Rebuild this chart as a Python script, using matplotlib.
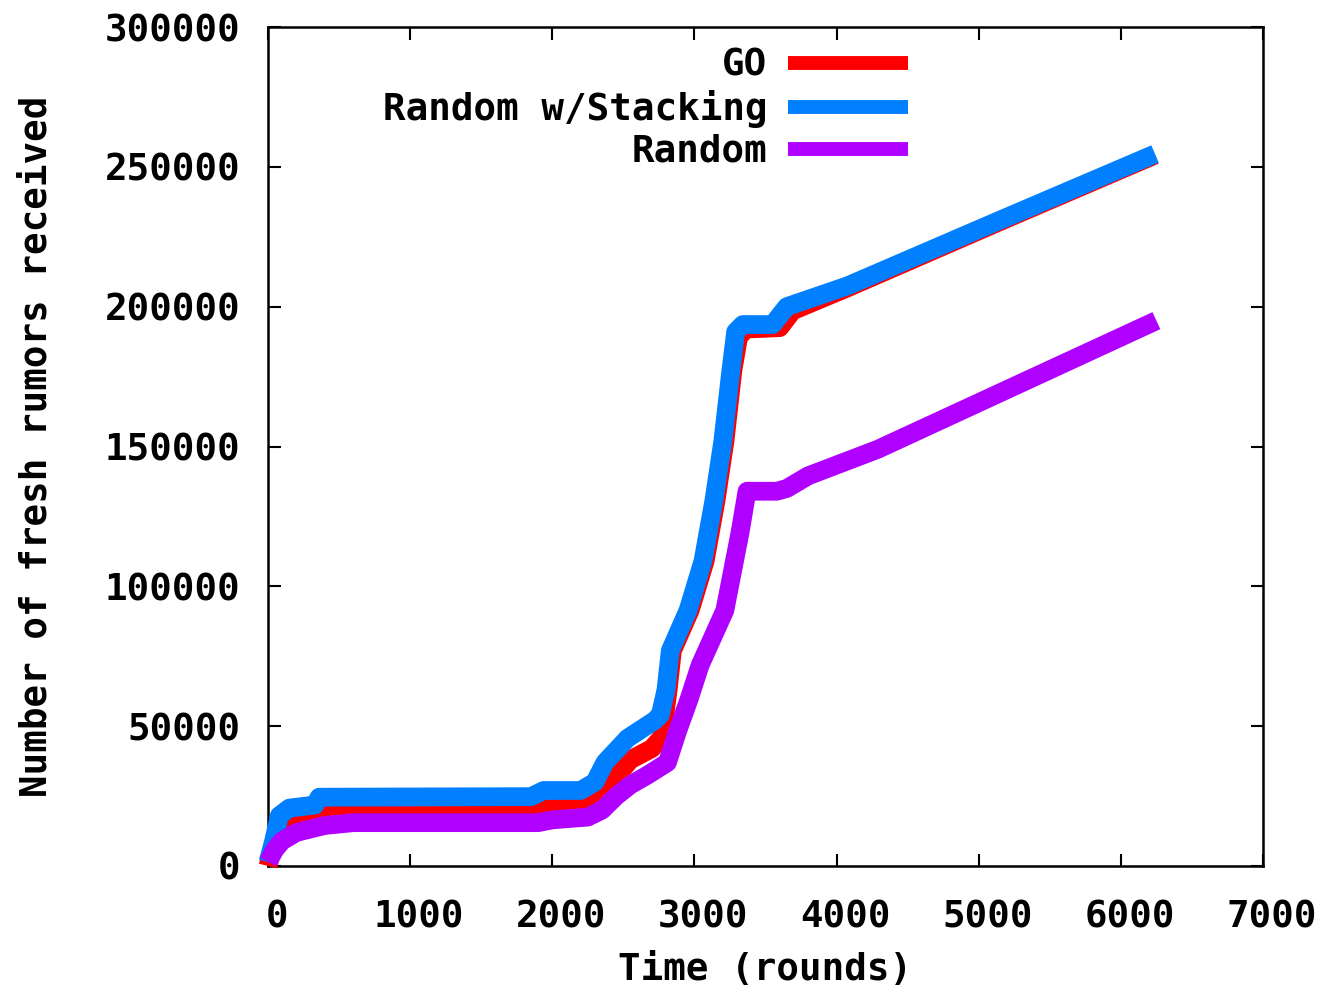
import matplotlib
matplotlib.use("Agg")
import matplotlib.pyplot as plt
import matplotlib.transforms as mtransforms

# GO
go_x = [0, 30, 100, 170, 300, 440, 1900, 1950, 2250, 2350, 2450, 2550, 2700, 2770,
        2815, 2845, 2970, 3075, 3152, 3215, 3270, 3310, 3360, 3600, 3690, 4080, 5130, 6240]
go_y = [0, 6000, 12000, 16000, 17000, 19300, 19300, 21500, 22500, 26000, 32000, 38000,
        42000, 46000, 63000, 77000, 91400, 109000, 130700, 152000, 177000, 189000,
        192000, 192500, 198500, 206800, 230000, 254200]

# Random w/Stacking
stack_x = [0, 40, 80, 150, 330, 360, 1850, 1940, 2200, 2300, 2370, 2530, 2720, 2760,
           2800, 2830, 2955, 3060, 3137, 3200, 3256, 3290, 3340, 3550, 3650, 4080,
           5130, 6240]
stack_y = [1400, 9000, 18000, 20700, 21800, 24600, 24800, 27000, 27000, 30000, 37000,
           45700, 52000, 54000, 63000, 77000, 91400, 109000, 130700, 152000, 177000,
           191000, 193600, 193600, 200000, 207500, 230500, 254600]

# Random
rand_x = [0, 50, 100, 200, 400, 600, 1900, 2000, 2250, 2350, 2450, 2550, 2670, 2810,
          2880, 2960, 3040, 3214, 3320, 3370, 3580, 3650, 3800, 4290, 6250]
rand_y = [1500, 6000, 9000, 12000, 14500, 15500, 15500, 16500, 17500, 20000, 25000,
          29000, 32500, 37000, 48000, 59300, 71800, 91400, 119000, 134000, 134000,
          135000, 139500, 149000, 195000]

x_ticks = [0, 1000, 2000, 3000, 4000, 5000, 6000, 7000]
y_ticks = [0, 50000, 100000, 150000, 200000, 250000, 300000]

FONT = 'DejaVu Sans Mono'
FS = 27

fig = plt.figure(figsize=(13.18, 9.92), dpi=100)
ax = fig.add_axes([268 / 1318, 1 - 866 / 992, (1263 - 268) / 1318, (866 - 27) / 992])

lw = 13.5
ax.plot(go_x, go_y, color='#ff0000', lw=lw, label='GO', solid_capstyle='butt', clip_on=False)
ax.plot(stack_x, stack_y, color='#0080ff', lw=lw, label='Random w/Stacking',
        solid_capstyle='butt', clip_on=False)
ax.plot(rand_x, rand_y, color='#b000ff', lw=lw, label='Random', solid_capstyle='butt',
        clip_on=False)

ax.set_xlim(0, 7000)
ax.set_ylim(0, 300000)
ax.set_xticks(x_ticks)
ax.set_yticks(y_ticks)
ax.set_xticklabels([str(v) for v in x_ticks], fontfamily=FONT, fontweight='bold', fontsize=FS)
ax.set_yticklabels([str(v) for v in y_ticks], fontfamily=FONT, fontweight='bold', fontsize=FS)
ax.tick_params(direction='in', top=True, right=True, length=9, width=1.5)
ax.tick_params(axis='y', pad=20)
ax.tick_params(axis='x', pad=24)

# gnuplot puts the x labels a bit to the right of the ticks
shift = mtransforms.ScaledTranslation(9 / 100, 0, fig.dpi_scale_trans)
for lbl in ax.get_xticklabels():
    lbl.set_transform(lbl.get_transform() + shift)

for s in ax.spines.values():
    s.set_linewidth(1.8)
    s.set_zorder(0.5)

ax.set_xlabel('Time (rounds)', fontfamily=FONT, fontweight='bold', fontsize=FS, labelpad=12)
ax.set_ylabel('Number of fresh rumors received', fontfamily=FONT, fontweight='bold',
              fontsize=FS, labelpad=36)

leg = ax.legend(loc='upper right', bbox_to_anchor=((908 - 268) / 995, 0.975),
                frameon=False, markerfirst=False, handlelength=3.2, handletextpad=0.55,
                labelspacing=0.16, borderaxespad=0, borderpad=0,
                prop={'family': FONT, 'weight': 'bold', 'size': FS})
for h in leg.get_lines():
    h.set_linewidth(10)
    h.set_solid_capstyle('butt')

fig.savefig('out.png', dpi=100)
